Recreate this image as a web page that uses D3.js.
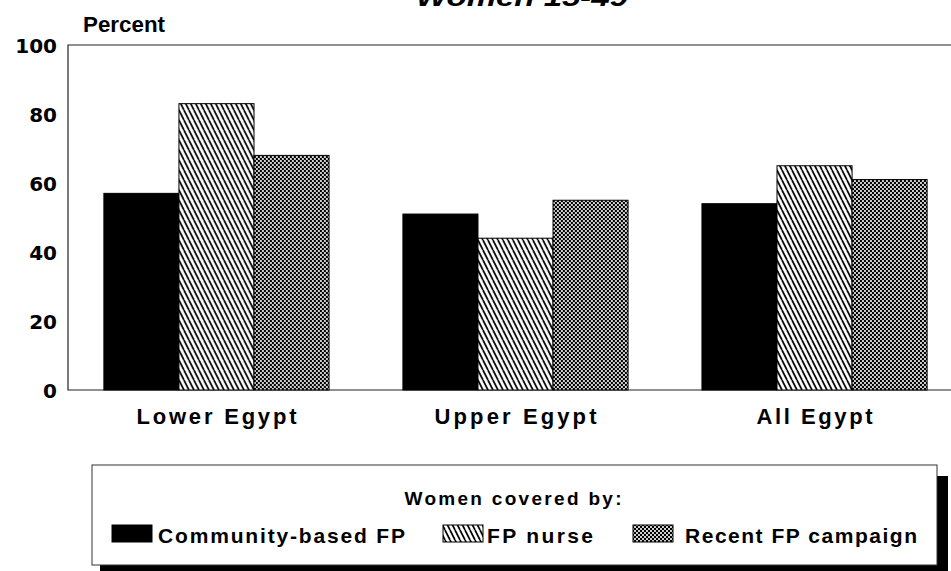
<!DOCTYPE html>
<html>
<head>
<meta charset="utf-8">
<script src="https://cdn.jsdelivr.net/npm/d3@7"></script>
<style>
  html, body { margin: 0; padding: 0; background: #fff; }
  svg { display: block; }
</style>
</head>
<body>
<svg id="chart" width="951" height="571"></svg>
<script>
// ---- data ----
const categories = ["Lower Egypt", "Upper Egypt", "All Egypt"];
const seriesNames = ["Community-based FP", "FP nurse", "Recent FP campaign"];
const communityFP = [57, 51, 54];
const nurseFP = [83, 44, 65];
const campaignFP = [68, 55, 61];
const yTicks = [0, 20, 40, 60, 80, 100];
const titleText = "Women 15-49";
const yLabel = "Percent";
const legendTitle = "Women covered by:";

const seriesValues = [communityFP, nurseFP, campaignFP];
const fills = ["#000", "url(#hatch)", "url(#cross)"];

const svg = d3.select("#chart");
const defs = svg.append("defs");

// diagonal hatch pattern
const hatch = defs.append("pattern").attr("id", "hatch")
  .attr("patternUnits", "userSpaceOnUse").attr("width", 5).attr("height", 10);
hatch.append("rect").attr("width", 5).attr("height", 10).attr("fill", "#fff");
hatch.append("path").attr("d", "M0,0L5,10M-5,0L0,10M5,0L10,10")
  .attr("stroke", "#000").attr("stroke-width", 1.7);

// fine checker pattern
const cross = defs.append("pattern").attr("id", "cross")
  .attr("patternUnits", "userSpaceOnUse").attr("width", 4).attr("height", 4);
cross.append("rect").attr("width", 4).attr("height", 4).attr("fill", "#000");
cross.append("rect").attr("x", 0.1).attr("y", 0.1).attr("width", 1.8).attr("height", 1.8).attr("fill", "#fff");
cross.append("rect").attr("x", 2.1).attr("y", 2.1).attr("width", 1.8).attr("height", 1.8).attr("fill", "#fff");

// ---- scales ----
const plotLeft = 68, plotTop = 45, plotBottom = 390;
const y = d3.scaleLinear().domain([0, 100]).range([plotBottom, plotTop]);
const x0 = d3.scaleBand().domain(categories).range([68, 963])
  .paddingInner(0.247).paddingOuter(0.12);
const x1 = d3.scaleBand().domain(seriesNames).range([0, x0.bandwidth()]).padding(0);

// title (clipped at top, as in the reference)
svg.append("text").attr("x", 522).attr("y", 6)
  .attr("text-anchor", "middle")
  .attr("font-family", "Liberation Sans, Arial, sans-serif")
  .attr("font-weight", "bold").attr("font-style", "italic")
  .attr("font-size", 26)
  .attr("textLength", 212).attr("lengthAdjust", "spacingAndGlyphs")
  .text(titleText);

// y label
svg.append("text").attr("x", 83).attr("y", 32)
  .attr("font-family", "Liberation Sans, Arial, sans-serif")
  .attr("font-size", 22).attr("font-weight", "bold")
  .attr("textLength", 82).attr("lengthAdjust", "spacingAndGlyphs")
  .text(yLabel);

// frame
svg.append("path")
  .attr("d", `M951,${plotTop}H${plotLeft}V${plotBottom}H951`)
  .attr("fill", "none").attr("stroke", "#222").attr("stroke-width", 1.2);

// y tick labels
svg.append("g").selectAll("text").data(yTicks).join("text")
  .attr("x", 57).attr("y", d => y(d)).attr("dy", "0.4em")
  .attr("text-anchor", "end")
  .attr("font-family", "DejaVu Sans, sans-serif")
  .attr("font-weight", "bold").attr("font-size", 20)
  .text(d => d);

// bars
const groups = svg.append("g").selectAll("g").data(categories).join("g")
  .attr("transform", d => `translate(${x0(d)},0)`);
groups.selectAll("rect")
  .data((c, ci) => seriesNames.map((s, si) => ({ s, si, v: seriesValues[si][ci] })))
  .join("rect")
  .attr("x", d => x1(d.s))
  .attr("y", d => y(d.v))
  .attr("width", x1.bandwidth())
  .attr("height", d => y(0) - y(d.v))
  .attr("fill", d => fills[d.si])
  .attr("stroke", "#000").attr("stroke-width", 1);

// category labels
const catWidths = [160, 162, 116];
svg.append("g").selectAll("text").data(categories).join("text")
  .attr("x", d => x0(d) + x0.bandwidth() / 2)
  .attr("y", 424)
  .attr("text-anchor", "middle")
  .attr("font-family", "Liberation Sans, Arial, sans-serif")
  .attr("font-weight", "bold").attr("font-size", 22)
  .attr("textLength", (d, i) => catWidths[i]).attr("lengthAdjust", "spacing")
  .text(d => d);

// legend
const lg = svg.append("g");
lg.append("rect").attr("x", 100).attr("y", 476).attr("width", 848).attr("height", 100).attr("fill", "#000");
lg.append("rect").attr("x", 92).attr("y", 465).attr("width", 845).attr("height", 100)
  .attr("fill", "#fff").attr("stroke", "#333").attr("stroke-width", 1);
lg.append("text").attr("x", 513).attr("y", 505).attr("text-anchor", "middle")
  .attr("font-family", "Liberation Sans, Arial, sans-serif")
  .attr("font-weight", "bold").attr("font-size", 19)
  .attr("textLength", 217).attr("lengthAdjust", "spacing")
  .text(legendTitle);

const swatchX = [112, 443, 633];
const labelX = [158, 487, 685];
const labelW = [247, 106, 232];
seriesNames.forEach((s, i) => {
  lg.append("rect").attr("x", swatchX[i]).attr("y", 525).attr("width", 40).attr("height", 17)
    .attr("fill", fills[i]).attr("stroke", "#000").attr("stroke-width", 1);
  lg.append("text").attr("x", labelX[i]).attr("y", 543)
    .attr("font-family", "Liberation Sans, Arial, sans-serif")
    .attr("font-weight", "bold").attr("font-size", 21)
    .attr("textLength", labelW[i]).attr("lengthAdjust", "spacing")
    .text(s);
});
</script>
</body>
</html>
